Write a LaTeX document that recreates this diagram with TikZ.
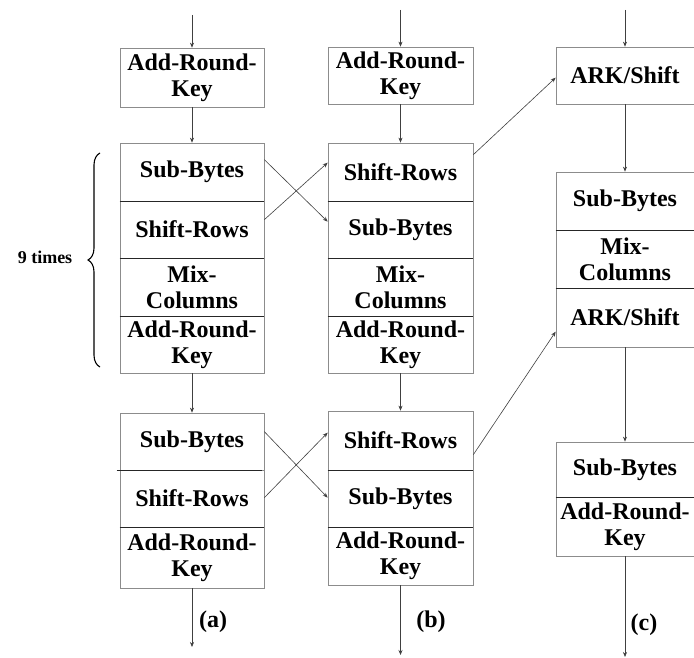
\documentclass[tikz,border=0pt]{standalone}
\usepackage{fontspec}
\setmainfont{Liberation Serif}
\usetikzlibrary{arrows.meta,calc,decorations.pathreplacing}
\definecolor{boxgray}{gray}{0.55}
\definecolor{linegray}{gray}{0.25}
\begin{document}
\begin{tikzpicture}[x=1pt,y=-1pt,
  cell/.style={rectangle,draw=boxgray,line width=0.7pt,inner sep=0pt,align=center,
    font=\fontsize{24}{26}\selectfont\bfseries,text=black},
  divider/.style={draw=black!85,line width=1.1pt},
  flow/.style={draw=linegray,line width=0.6pt,-{Stealth[length=5pt,width=4pt]}},
  caption/.style={font=\fontsize{24}{26}\selectfont\bfseries,inner sep=0pt},
  brace/.style={decorate,decoration={brace,amplitude=12pt},line width=1.1pt}]
\useasboundingbox (0,0) rectangle (694,658);

% ---- column (a) ----
\node[cell,minimum width=144,minimum height=59] (a0) at (192,77.5) {Add-Round-\\Key};
\node[cell,minimum width=144,minimum height=58] (a1) at (192,172) {Sub-Bytes};
\node[cell,minimum width=144,minimum height=57] (a2) at (192,229.5) {Shift-Rows};
\node[cell,minimum width=144,minimum height=58] (a3) at (192,287) {Mix-\\Columns};
\node[cell,minimum width=144,minimum height=57] (a4) at (192,344.5) {Add-Round-\\Key};
\node[cell,minimum width=144,minimum height=57] (a5) at (192,441.5) {Sub-Bytes};
\node[cell,minimum width=144,minimum height=57] (a6) at (192,498.5) {Shift-Rows};
\node[cell,minimum width=144,minimum height=61] (a7) at (192,557.5) {Add-Round-\\Key};

% ---- column (b) ----
\node[cell,minimum width=145,minimum height=57] (b0) at (400.5,75.5) {Add-Round-\\Key};
\node[cell,minimum width=145,minimum height=58] (b1) at (400.5,172) {Shift-Rows};
\node[cell,minimum width=145,minimum height=57] (b2) at (400.5,229.5) {Sub-Bytes};
\node[cell,minimum width=145,minimum height=58] (b3) at (400.5,287) {Mix-\\Columns};
\node[cell,minimum width=145,minimum height=57] (b4) at (400.5,344.5) {Add-Round-\\Key};
\node[cell,minimum width=145,minimum height=59] (b5) at (400.5,440.5) {Shift-Rows};
\node[cell,minimum width=145,minimum height=57] (b6) at (400.5,498.5) {Sub-Bytes};
\node[cell,minimum width=145,minimum height=58] (b7) at (400.5,556) {Add-Round-\\Key};

% ---- column (c) ----
\node[cell,minimum width=138,minimum height=57] (c0) at (625,75.5) {ARK/Shift};
\node[cell,minimum width=138,minimum height=58] (c1) at (625,201) {Sub-Bytes};
\node[cell,minimum width=138,minimum height=58] (c2) at (625,259) {Mix-\\Columns};
\node[cell,minimum width=138,minimum height=59] (c3) at (625,317.5) {ARK/Shift};
\node[cell,minimum width=138,minimum height=55] (c4) at (625,469.5) {Sub-Bytes};
\node[cell,minimum width=138,minimum height=59] (c5) at (625,526.5) {Add-Round-\\Key};

% ---- dividers between stacked stages ----
\foreach \n in {a1,a2,a3,a6,b1,b2,b3,b5,b6,c1,c2,c4}
  \draw[divider] (\n.south west) -- (\n.south east);
\draw[divider] ([xshift=-3pt]a5.south west) -- ([xshift=-2pt]a5.south east);

% ---- vertical data flow ----
\coordinate (a-in) at (192,15);
\coordinate (a-out) at (192,647);
\coordinate (b-in) at (400.5,10);
\coordinate (b-out) at (400.5,655);
\coordinate (c-in) at (625,10);
\coordinate (c-out) at (625,657);
\draw[flow] (a-in) -- (a0);
\draw[flow] (a0) -- (a1);
\draw[flow] (a4) -- (a5);
\draw[flow] (a7) -- (a-out);
\draw[flow] (b-in) -- (b0);
\draw[flow] (b0) -- (b1);
\draw[flow] (b4) -- (b5);
\draw[flow] (b7) -- (b-out);
\draw[flow] (c-in) -- (c0);
\draw[flow] (c0) -- (c1);
\draw[flow] (c3) -- (c4);
\draw[flow] (c5) -- (c-out);

% ---- swapped Sub-Bytes / Shift-Rows ----
\draw[flow] ($(a1.north east)+(0,17)$) -- ($(b2.north west)+(0,21)$);
\draw[flow] ($(a2.north east)+(0,19)$) -- ($(b1.north west)+(0,20)$);
\draw[flow] ($(a5.north east)+(0,19)$) -- ($(b6.north west)+(0,28)$);
\draw[flow] ($(a6.north east)+(0,28)$) -- ($(b5.north west)+(0,22)$);

% ---- Shift-Rows merged into ARK/Shift ----
\draw[flow] ($(b1.north east)+(0,12)$) -- ($(c0.north west)+(0,31)$);
\draw[flow] ($(b5.north east)+(0,44)$) -- ($(c3.north west)+(0,44)$);

% ---- loop brace ----
\coordinate (br-bot) at (100,367);
\coordinate (br-top) at (100,153);
\draw[brace] (br-bot) -- (br-top);
\node[font=\fontsize{18}{20}\selectfont\bfseries] (times) at (45,257) {9 times};

% ---- captions ----
\node[caption] (cap-a) at (213,622) {(a)};
\node[caption] (cap-b) at (431,622) {(b)};
\node[caption] (cap-c) at (644,625) {(c)};
\end{tikzpicture}
\end{document}
